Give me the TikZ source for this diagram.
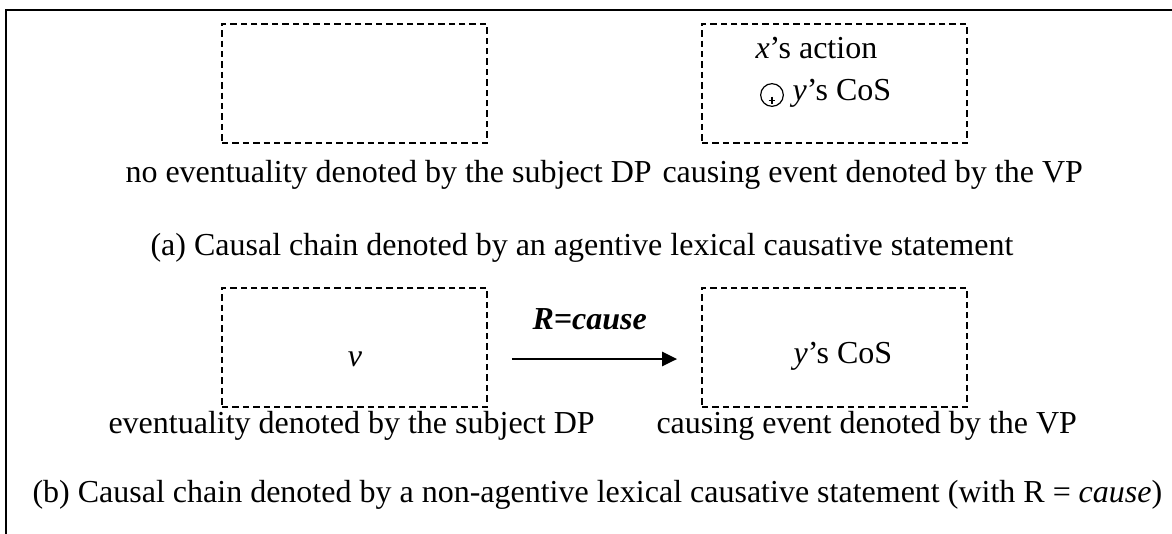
\documentclass[tikz,border=0pt]{standalone}
\usepackage{fontspec}
\setmainfont{Liberation Serif}
\usetikzlibrary{arrows.meta}
\begin{document}
\begin{tikzpicture}[x=0.375pt,y=-0.375pt,
  every node/.style={font=\fontsize{12}{14}\selectfont, inner sep=0pt},
  dbox/.style={draw, line width=0.68pt, dash pattern=on 2.4pt off 1.5pt, minimum width=99.375pt, minimum height=44.625pt},
  txt/.style={anchor=base west},
  ctxt/.style={anchor=base},
  frame/.style={line width=0.8pt},
  conn/.style={line width=0.8pt, -{Triangle[length=5.6pt,width=5.3pt]}},
  opcirc/.style={circle, draw, line width=0.45pt, minimum size=8.5pt}]
\useasboundingbox (0,0) rectangle (1172,533);
\draw[frame] (6,540) -- (6,10) -- (1180,10);
% boxes
\node[dbox] (A1) at (354.5,83.5) {};
\node[dbox] (A2) at (834.5,83.5) {};
\node[dbox] (B1) at (354.5,347.5) {};
\node[dbox] (B2) at (834.5,347.5) {};
% contents of A2
\node[txt] (xa) at (755,58) {\textit{x}’s action};
\node[opcirc] (op) at (772,95) {};
\draw[line width=0.4pt] ([yshift=-1.9pt,xshift=-1.3pt]op.center) -- ([yshift=-1.9pt,xshift=1.3pt]op.center);
\draw[line width=0.4pt] ([yshift=-0.6pt]op.center) -- ([yshift=-3.2pt]op.center);
\node[txt] (yc) at (792,100) {\textit{y}’s CoS};
% row a labels
\node[txt] (la1) at (125,182) {no eventuality denoted by the subject DP};
\node[txt] (la2) at (662,182) {causing event denoted by the VP};
\node[txt] (ca) at (150,255) {(a) Causal chain denoted by an agentive lexical causative statement};
% row b
\node[ctxt] (v) at (355,366) {\textit{v}};
\node[txt] (yc2) at (793,363) {\textit{y}’s CoS};
\coordinate (ay) at (0,359);
\draw[conn, shorten <=9pt, shorten >=9pt] (B1.east |- ay) -- (B2.west |- ay);
\node[txt] (rl) at (532,329) {\textbf{\textit{R=cause}}};
\node[txt] (lb1) at (108,433) {eventuality denoted by the subject DP};
\node[txt] (lb2) at (656,433) {causing event denoted by the VP};
\node[txt] (cb) at (32,502) {(b) Causal chain denoted by a non-agentive lexical causative statement (with R = \textit{cause})};
\end{tikzpicture}
\end{document}
